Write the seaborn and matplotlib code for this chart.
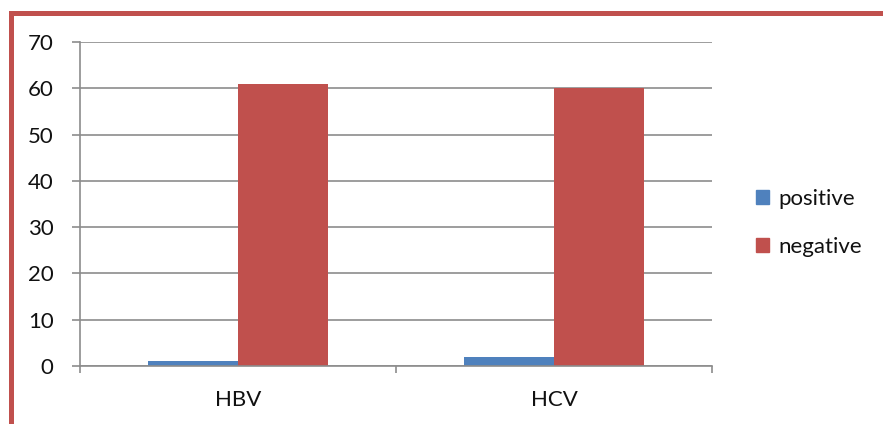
import pandas as pd
import seaborn as sns
import matplotlib.pyplot as plt
from matplotlib.lines import Line2D
from matplotlib.patches import Patch

# data
viruses = ['HBV', 'HCV']
positive = [1, 2]
negative = [61, 60]
yticks = [0, 10, 20, 30, 40, 50, 60, 70]

df = pd.DataFrame({
    'virus': viruses * 2,
    'result': ['positive'] * 2 + ['negative'] * 2,
    'count': positive + negative,
})

sns.set_style('white')
plt.rcParams['font.family'] = ['Lato', 'DejaVu Sans']
plt.rcParams['text.color'] = '#111111'

fig = plt.figure(figsize=(8.83, 4.24), dpi=100)
ax = fig.add_axes([80 / 883, 1 - 366 / 424, 632 / 883, 324 / 424])

palette = {'positive': '#4F81BD', 'negative': '#C0504D'}
sns.barplot(data=df, x='virus', y='count', hue='result', palette=palette,
            width=0.57, gap=0, saturation=1, linewidth=0, ax=ax, legend=False)

ax.set_xlim(-0.5, 1.5)
ax.set_ylim(0, 70)
ax.set_yticks(yticks)
ax.yaxis.grid(True, color='#8C8C8C', linewidth=1.2)
ax.set_axisbelow(True)
ax.set_xlabel('')
ax.set_ylabel('')

for s in ['top', 'right']:
    ax.spines[s].set_visible(False)
for s in ['left', 'bottom']:
    ax.spines[s].set_color('#8C8C8C')
    ax.spines[s].set_linewidth(1.2)

ax.tick_params(axis='y', length=6, width=1.2, color='#8C8C8C', pad=13,
               labelsize=16, labelcolor='#111111', left=True)
ax.tick_params(axis='x', length=0, pad=17, labelsize=16, labelcolor='#111111')
ax.set_xticks([-0.5, 0.5, 1.5], minor=True)
ax.tick_params(axis='x', which='minor', length=5, width=1.2, color='#8C8C8C',
               bottom=True)

handles = [Patch(color=palette['positive'], label='positive'),
           Patch(color=palette['negative'], label='negative')]
fig.legend(handles=handles, loc='center left', bbox_to_anchor=(736 / 883, 1 - 223 / 424),
           frameon=False, fontsize=16, handlelength=0.6, handleheight=0.6,
           handletextpad=0.4, labelspacing=1.25)

# red frame on the top and left
red = '#C0504D'
fig.add_artist(Line2D([10.5 / 883, 1], [1 - 12.5 / 424] * 2, color=red, linewidth=3.6,
                      transform=fig.transFigure))
fig.add_artist(Line2D([10.5 / 883] * 2, [0, 1 - 12.5 / 424], color=red, linewidth=3.6,
                      transform=fig.transFigure, solid_capstyle='projecting'))

fig.savefig('out.png', dpi=100, facecolor='white')
